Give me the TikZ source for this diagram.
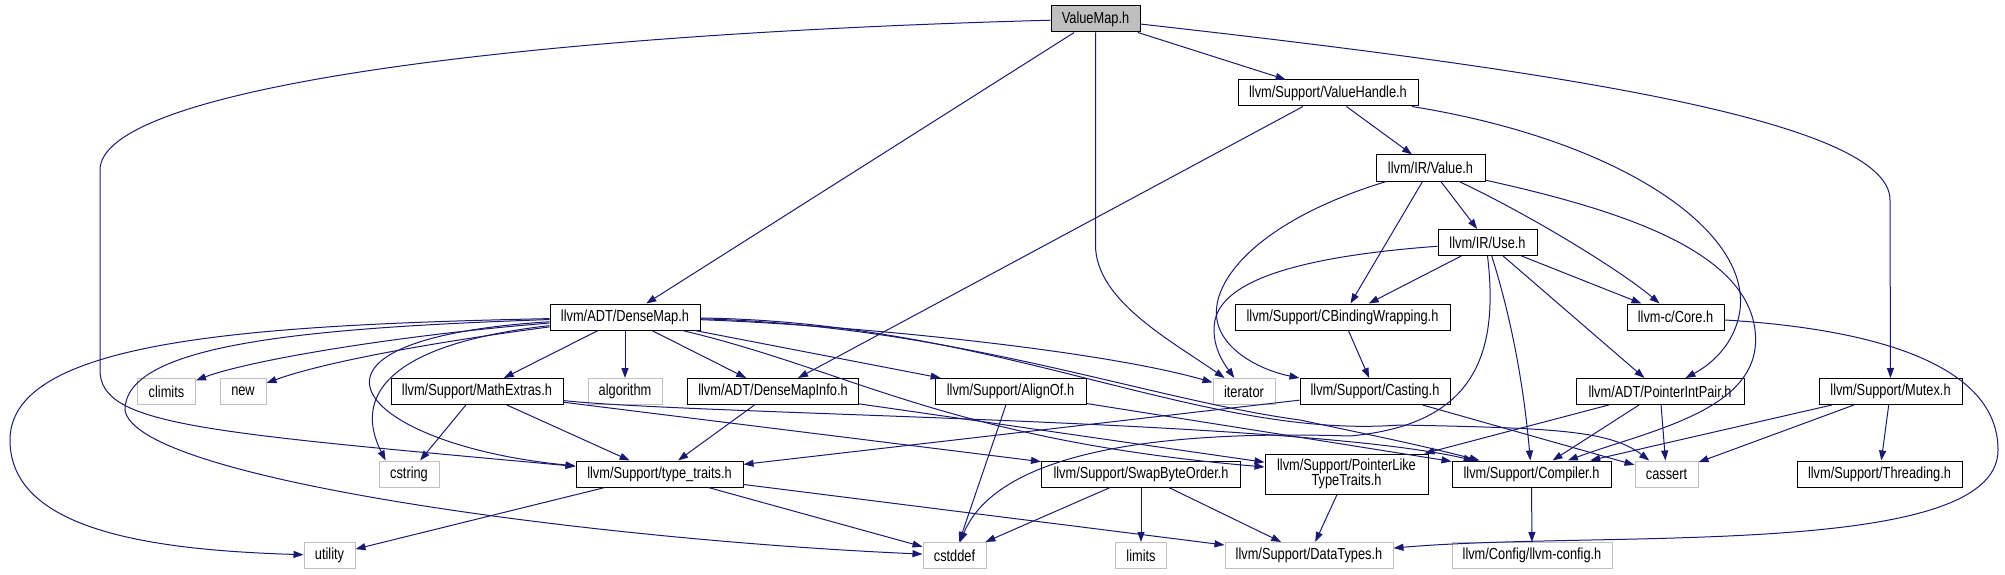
\documentclass[tikz,border=0pt]{standalone}
\usepackage{fontspec}
\setmainfont{Liberation Sans}[FakeStretch=0.8]
\usetikzlibrary{arrows.meta}
\definecolor{edgec}{HTML}{191970}
\definecolor{grayb}{HTML}{BFBFBF}
\begin{document}
\begin{tikzpicture}[x=1pt,y=-1pt,
  box/.style={draw=black,line width=1pt,inner sep=0pt,minimum height=26pt,font=\fontsize{16}{15}\selectfont,text=black},
  sysbox/.style={box,draw=grayb},
  edge/.style={draw=edgec,line width=1pt,-{Triangle[length=10pt,width=7pt]}}]
\useasboundingbox (0,0) rectangle (2005,575);
% row 0-2
\node[box,fill=grayb,minimum width=89pt] (vm) at (1095.5,19) {ValueMap.h};
\node[box,minimum width=180pt] (vh) at (1328,93) {llvm/Support/ValueHandle.h};
\node[box,minimum width=109pt] (val) at (1430.5,168) {llvm/IR/Value.h};
\node[box,minimum width=99pt] (use) at (1487.5,242.5) {llvm/IR/Use.h};
\node[box,minimum width=215pt] (cbw) at (1342.5,317) {llvm/Support/CBindingWrapping.h};
\node[box,minimum width=97pt] (core) at (1675.5,317) {llvm-c/Core.h};
\node[box,minimum width=150pt] (dm) at (625,317) {llvm/ADT/DenseMap.h};
% row 3
\node[sysbox,minimum width=58pt] (climits) at (166.5,391.5) {climits};
\node[sysbox,minimum width=46pt] (new) at (243,391.5) {new};
\node[box,minimum width=172pt] (math) at (477,391.5) {llvm/Support/MathExtras.h};
\node[sysbox,minimum width=74pt] (algorithm) at (625,391.5) {algorithm};
\node[box,minimum width=171pt] (dmi) at (773,391.5) {llvm/ADT/DenseMapInfo.h};
\node[box,minimum width=151pt] (align) at (1010.5,391.5) {llvm/Support/AlignOf.h};
\node[sysbox,minimum width=62pt] (iterator) at (1244,391.5) {iterator};
\node[box,minimum width=150pt] (cast) at (1375,391.5) {llvm/Support/Casting.h};
\node[box,minimum width=168pt] (pip) at (1660,391.5) {llvm/ADT/PointerIntPair.h};
\node[box,minimum width=143pt] (mutex) at (1890.5,391.5) {llvm/Support/Mutex.h};
% row 4
\node[sysbox,minimum width=60pt] (cstring) at (409,474) {cstring};
\node[box,minimum width=167pt] (tt) at (659.5,474) {llvm/Support/type\_traits.h};
\node[box,minimum width=199pt] (sbo) at (1141,474) {llvm/Support/SwapByteOrder.h};
\node[box,minimum width=163pt,minimum height=40pt,align=center] (plt) at (1346.5,474) {llvm/Support/PointerLike\\TypeTraits.h};
\node[box,minimum width=159pt] (comp) at (1531.5,474) {llvm/Support/Compiler.h};
\node[sysbox,minimum width=63pt] (cassert) at (1666.5,474) {cassert};
\node[box,minimum width=165pt] (thr) at (1879.5,474) {llvm/Support/Threading.h};
% row 5
\node[sysbox,minimum width=51pt] (utility) at (329.5,555.5) {utility};
\node[sysbox,minimum width=63pt] (cstddef) at (954.5,555.5) {cstddef};
\node[sysbox,minimum width=51pt] (limits) at (1141,555.5) {limits};
\node[sysbox,minimum width=168pt] (dt) at (1309,555.5) {llvm/Support/DataTypes.h};
\node[sysbox,minimum width=160pt] (cfg) at (1532,555.5) {llvm/Config/llvm-config.h};
% ValueMap.h
\draw[edge] (vm) .. controls (500,35) and (100,90) .. (100,170) -- (100,370) .. controls (100,425) and (200,432) .. (tt);
\draw[edge] (vm) -- (dm);
\draw[edge] (vm.south) -- (1095.5,245) .. controls (1095.5,300) and (1170,340) .. (iterator);
\draw[edge] (vm) -- (vh);
\draw[edge] (vm) .. controls (1550,70) and (1890,120) .. (1890,200) -- (mutex);
% ValueHandle.h
\draw[edge] (vh) -- (dmi);
\draw[edge] (vh) -- (val);
\draw[edge] (vh) .. controls (1620,140) and (1750,230) .. (1740,310) .. controls (1735,345) and (1710,365) .. (pip);
% Value.h
\draw[edge] (val) .. controls (1260,220) and (1210,280) .. (1217,320) .. controls (1222,350) and (1260,370) .. (cast.north west);
\draw[edge] (val) -- (cbw);
\draw[edge] (val) -- (use);
\draw[edge] (val) .. controls (1530,215) and (1620,270) .. (core);
\draw[edge] (val) .. controls (1620,210) and (1745,250) .. (1755,330) .. controls (1765,410) and (1650,430) .. (comp);
% Use.h
\draw[edge] (use) .. controls (1320,255) and (1225,275) .. (1215,320) .. controls (1210,345) and (1225,365) .. (iterator);
\draw[edge] (use) -- (cbw);
\draw[edge] (use) -- (core);
\draw[edge] (use) -- (pip);
\draw[edge] (use) .. controls (1515,330) and (1525,400) .. (comp);
\draw[edge] (use.south) .. controls (1500,360) and (1470,425) .. (1350,436) .. controls (1100,428) and (990,470) .. (cstddef);
% others
\draw[edge] (cbw) -- (cast);
\draw[edge] (core) .. controls (1890,330) and (1998,370) .. (1998,450) .. controls (1998,560) and (1600,530) .. (dt);
\draw[edge] (cast) -- (tt);
\draw[edge] (cast) -- (cassert);
\draw[edge] (pip) -- (plt);
\draw[edge] (pip) -- (comp);
\draw[edge] (pip) -- (cassert);
\draw[edge] (mutex) -- (comp);
\draw[edge] (mutex) -- (cassert);
\draw[edge] (mutex) -- (thr);
\draw[edge] (comp) -- (cfg);
\draw[edge] (plt) -- (dt);
\draw[edge] (dmi) -- (tt);
\draw[edge] (dmi) -- (plt);
\draw[edge] (align) -- (cstddef);
\draw[edge] (align) -- (comp);
\draw[edge] (math) -- (cstring);
\draw[edge] (math) -- (tt);
\draw[edge] (math) -- (sbo);
\draw[edge] (math) .. controls (700,415) and (1300,420) .. (comp);
\draw[edge] (sbo) -- (cstddef);
\draw[edge] (sbo) -- (limits);
\draw[edge] (sbo) -- (dt);
\draw[edge] (tt) -- (utility);
\draw[edge] (tt) -- (cstddef);
\draw[edge] (tt) -- (dt);
% DenseMap.h
\draw[edge] (dm) .. controls (250,325) and (10,340) .. (10,440) .. controls (10,530) and (150,550) .. (utility);
\draw[edge] (dm) .. controls (300,328) and (125,345) .. (125,410) .. controls (135,480) and (600,540) .. (cstddef);
\draw[edge] (dm) .. controls (400,335) and (250,360) .. (climits);
\draw[edge] (dm) .. controls (450,340) and (330,360) .. (new);
\draw[edge] (dm) .. controls (380,345) and (355,400) .. (cstring.150);
\draw[edge] (dm) .. controls (260,340) and (360,445) .. (tt);
\draw[edge] (dm) -- (math);
\draw[edge] (dm) -- (algorithm);
\draw[edge] (dm) -- (dmi);
\draw[edge] (dm) -- (align);
\draw[edge] (dm) .. controls (850,325) and (1100,350) .. (iterator);
\draw[edge] (dm) .. controls (850,370) and (950,440) .. (plt);
\draw[edge] (dm) .. controls (950,325) and (1150,400) .. (1300,420) .. controls (1380,437) and (1420,445) .. (comp);
\draw[edge] (dm) .. controls (1000,322) and (1200,440) .. (1400,425) .. controls (1550,428) and (1610,430) .. (cassert);
\end{tikzpicture}
\end{document}
